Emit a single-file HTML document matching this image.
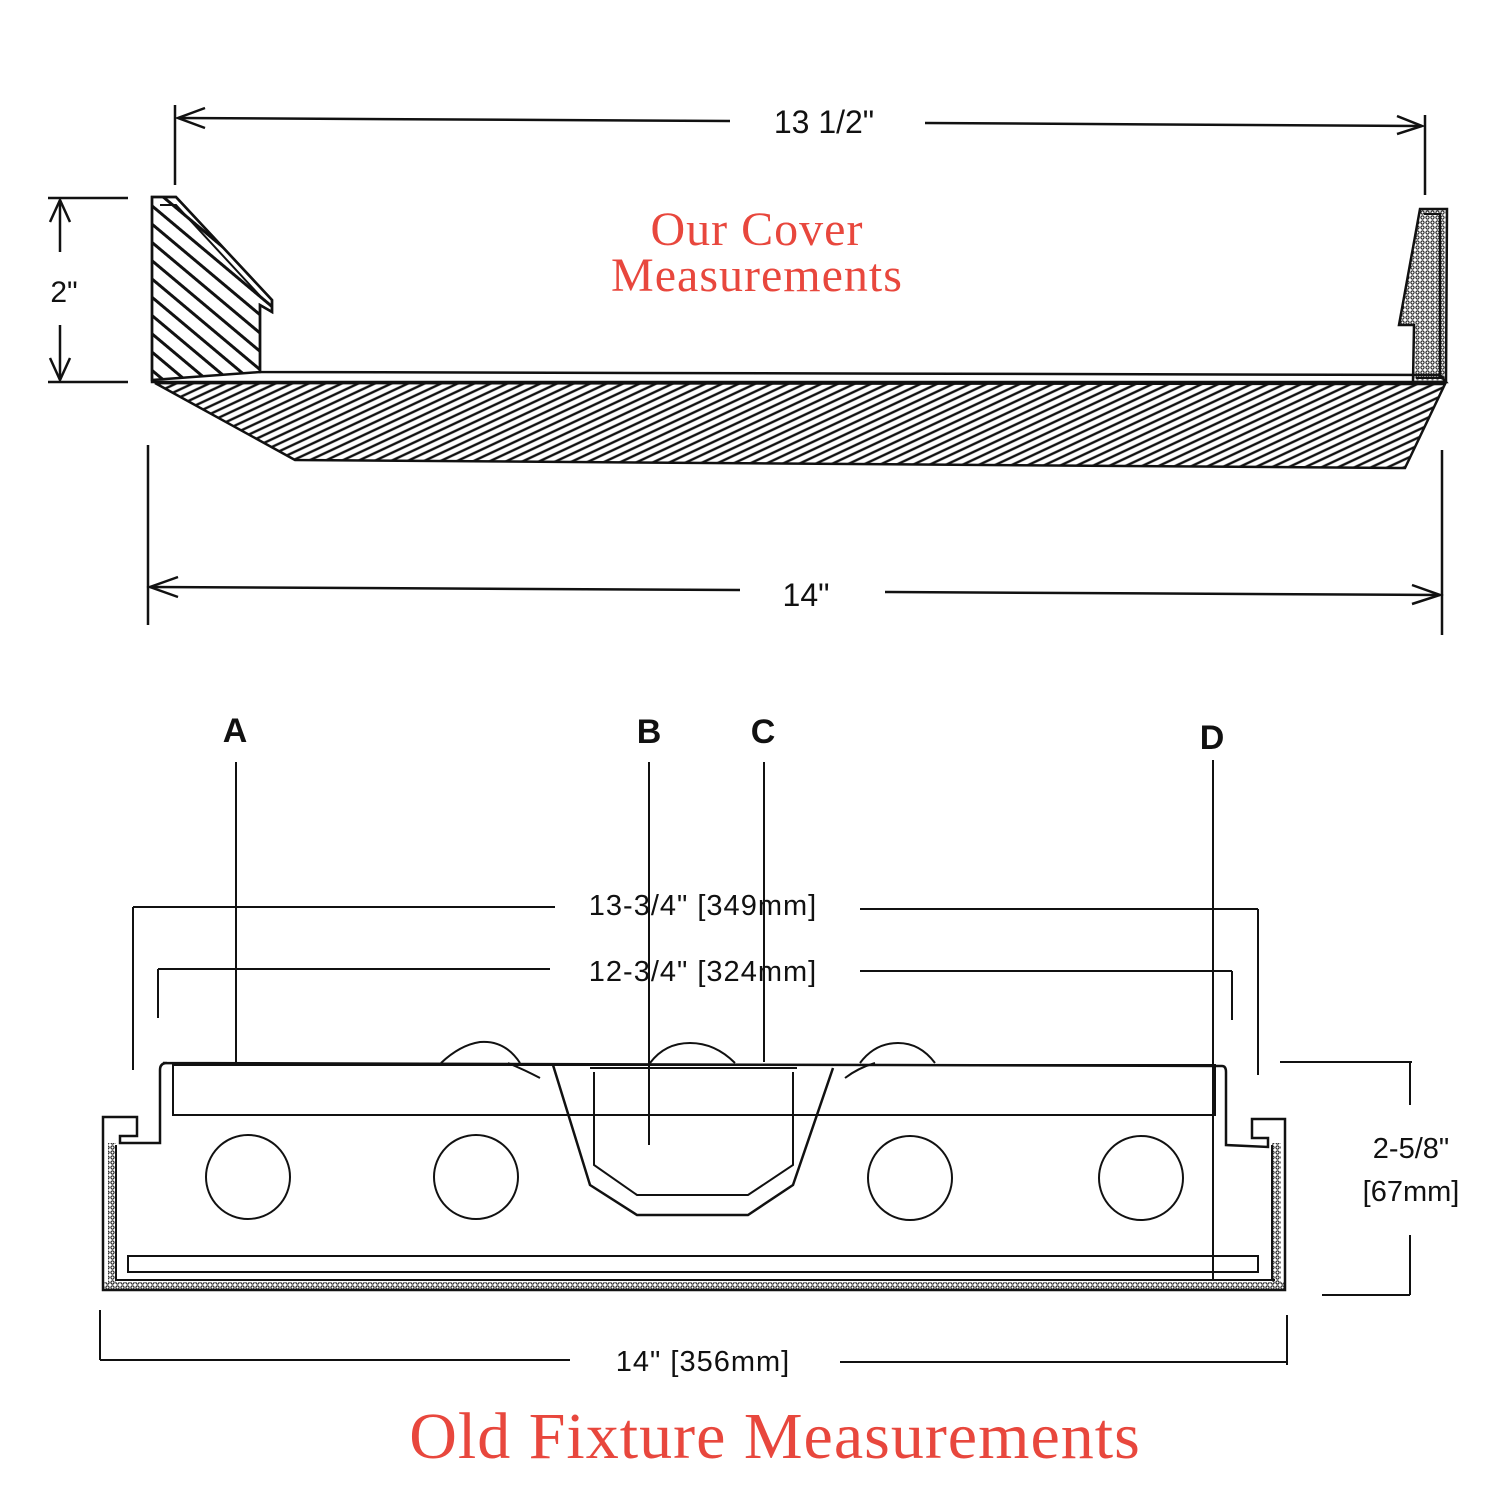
<!DOCTYPE html>
<html><head><meta charset="utf-8"><style>html,body{margin:0;padding:0;background:#fff}svg{display:block}</style></head>
<body>
<svg width="1512" height="1512" viewBox="0 0 1512 1512" xmlns="http://www.w3.org/2000/svg">
<defs>
<pattern id="slab" patternUnits="userSpaceOnUse" width="14" height="7" patternTransform="rotate(-25)">
<line x1="0" y1="2" x2="14" y2="2" stroke="#111" stroke-width="2.4"/>
</pattern>
<pattern id="wall" patternUnits="userSpaceOnUse" width="16" height="14" patternTransform="rotate(40)">
<line x1="0" y1="4" x2="16" y2="4" stroke="#111" stroke-width="3"/>
</pattern>
<pattern id="dots" patternUnits="userSpaceOnUse" width="5" height="5">
<circle cx="2.5" cy="2.5" r="1.6" fill="none" stroke="#111" stroke-width="1"/>
</pattern>
</defs>
<g fill="none" stroke="#111" stroke-width="2.5" font-family="Liberation Sans, sans-serif">
<line x1="175" y1="105" x2="175" y2="185"/>
<line x1="1425" y1="115" x2="1425" y2="195"/>
<line x1="178" y1="118" x2="730" y2="121"/>
<line x1="925" y1="123" x2="1422" y2="126"/>
<polyline points="205,108 178,118 205,128"/>
<polyline points="1397,116 1422,126 1397,134"/>
<line x1="48" y1="198" x2="128" y2="198"/>
<line x1="48" y1="382" x2="128" y2="382"/>
<line x1="60" y1="200" x2="60" y2="252"/>
<line x1="60" y1="325" x2="60" y2="380"/>
<polyline points="50,222 60,200 70,222"/>
<polyline points="50,358 60,380 70,358"/>
<path d="M152,197 L176,197 L272,300 L272,312 L260,305 L260,372 L152,380 Z" fill="url(#wall)"/>
<path d="M152,197 L176,197 L272,300 L272,312 L260,305 L260,372 L1440,375 L1446,382 L152,382 Z"/>
<path d="M160,205 L176,205 L262,298" stroke-width="2"/>
<path d="M155,383 L1445,384 L1405,468 L295,460 Z" fill="url(#slab)"/>
<path d="M1420,209 L1447,209 L1446,382 L1413,382 L1414,325 L1399,325 L1420,209 Z" fill="url(#dots)"/>
<path d="M1424,214 L1440,214 L1440,378 L1416,378" stroke-width="2"/>
<line x1="148" y1="445" x2="148" y2="625"/>
<line x1="1442" y1="450" x2="1442" y2="635"/>
<line x1="150" y1="587" x2="740" y2="590"/>
<line x1="885" y1="592" x2="1440" y2="595"/>
<polyline points="178,577 150,587 178,597"/>
<polyline points="1412,585 1440,595 1412,604"/>
<g stroke-width="2">
<line x1="236" y1="762" x2="236" y2="1062"/>
<line x1="649" y1="762" x2="649" y2="1145"/>
<line x1="764" y1="762" x2="764" y2="1062"/>
<line x1="1213" y1="760" x2="1213" y2="1280"/>
<line x1="133" y1="907" x2="555" y2="907"/>
<line x1="860" y1="909" x2="1258" y2="909"/>
<line x1="133" y1="907" x2="133" y2="1070"/>
<line x1="1258" y1="909" x2="1258" y2="1075"/>
<line x1="158" y1="969" x2="550" y2="969"/>
<line x1="860" y1="971" x2="1232" y2="971"/>
<line x1="158" y1="969" x2="158" y2="1018"/>
<line x1="1232" y1="971" x2="1232" y2="1020"/>
<path d="M163,1063 L1222,1066 Q1226,1066 1226,1072 L1226,1145 L1268,1147 L1268,1138 L1252,1138 L1252,1119 L1285,1119 L1285,1290 L103,1290 L103,1117 L137,1117 L137,1136 L120,1136 L120,1143 L160,1143 L160,1070 Q160,1063 167,1063 Z" stroke-width="2.5"/>
<rect x="108" y="1143" width="8" height="142" fill="url(#dots)" stroke="none"/>
<rect x="1272" y="1143" width="9" height="142" fill="url(#dots)" stroke="none"/>
<rect x="103" y="1282" width="1182" height="9" fill="url(#dots)" stroke="none"/>
<line x1="115" y1="1280" x2="1275" y2="1280"/>
<line x1="116" y1="1145" x2="116" y2="1280"/>
<line x1="1272" y1="1145" x2="1272" y2="1280"/>
<rect x="173" y="1065" width="1042" height="50"/>
<rect x="128" y="1256" width="1130" height="16"/>
<circle cx="248" cy="1177" r="42"/>
<circle cx="476" cy="1177" r="42"/>
<circle cx="910" cy="1178" r="42"/>
<circle cx="1141" cy="1178" r="42"/>
<polyline points="553,1065 590,1185 637,1215 748,1215 793,1185 833,1068" stroke-width="2.5"/>
<polyline points="594,1072 594,1165 637,1195 748,1195 793,1165 793,1072"/>
<line x1="590" y1="1068" x2="797" y2="1068"/>
<path d="M441,1063 Q460,1045 480,1042 Q505,1040 520,1063"/>
<path d="M650,1063 Q665,1043 690,1043 Q715,1043 735,1063"/>
<path d="M860,1063 Q875,1043 898,1043 Q920,1043 935,1063"/>
<path d="M508,1063 Q525,1070 540,1078"/>
<path d="M845,1078 Q858,1068 875,1063"/>
<line x1="1280" y1="1062" x2="1412" y2="1062"/>
<line x1="1322" y1="1295" x2="1410" y2="1295"/>
<line x1="1410" y1="1062" x2="1410" y2="1105"/>
<line x1="1410" y1="1235" x2="1410" y2="1295"/>
<line x1="100" y1="1310" x2="100" y2="1360"/>
<line x1="1287" y1="1315" x2="1287" y2="1365"/>
<line x1="100" y1="1360" x2="570" y2="1360"/>
<line x1="840" y1="1362" x2="1287" y2="1362"/>
</g>
</g>
<g font-family="Liberation Sans, sans-serif" fill="#111">
<text x="824" y="133" font-size="32" text-anchor="middle">13 1/2"</text>
<text x="64" y="302" font-size="30" text-anchor="middle">2"</text>
<text x="806" y="606" font-size="32" text-anchor="middle">14"</text>
<text x="235" y="742" font-size="34" font-weight="bold" text-anchor="middle">A</text>
<text x="649" y="743" font-size="34" font-weight="bold" text-anchor="middle">B</text>
<text x="763" y="743" font-size="34" font-weight="bold" text-anchor="middle">C</text>
<text x="1212" y="749" font-size="34" font-weight="bold" text-anchor="middle">D</text>
<text x="703" y="915" font-size="29" text-anchor="middle" letter-spacing="1">13-3/4" [349mm]</text>
<text x="703" y="981" font-size="29" text-anchor="middle" letter-spacing="1">12-3/4" [324mm]</text>
<text x="1411" y="1158" font-size="29" text-anchor="middle">2-5/8"</text>
<text x="1411" y="1201" font-size="29" text-anchor="middle">[67mm]</text>
<text x="703" y="1371" font-size="29" text-anchor="middle" letter-spacing="1">14" [356mm]</text>
</g>
<g font-family="Liberation Serif, serif" fill="#e8473d" text-anchor="middle">
<text x="757" y="245" font-size="48" letter-spacing="1">Our Cover</text>
<text x="757" y="291" font-size="48" letter-spacing="1">Measurements</text>
<text x="775" y="1458" font-size="66" letter-spacing="1">Old Fixture Measurements</text>
</g>
</svg>
</body></html>
